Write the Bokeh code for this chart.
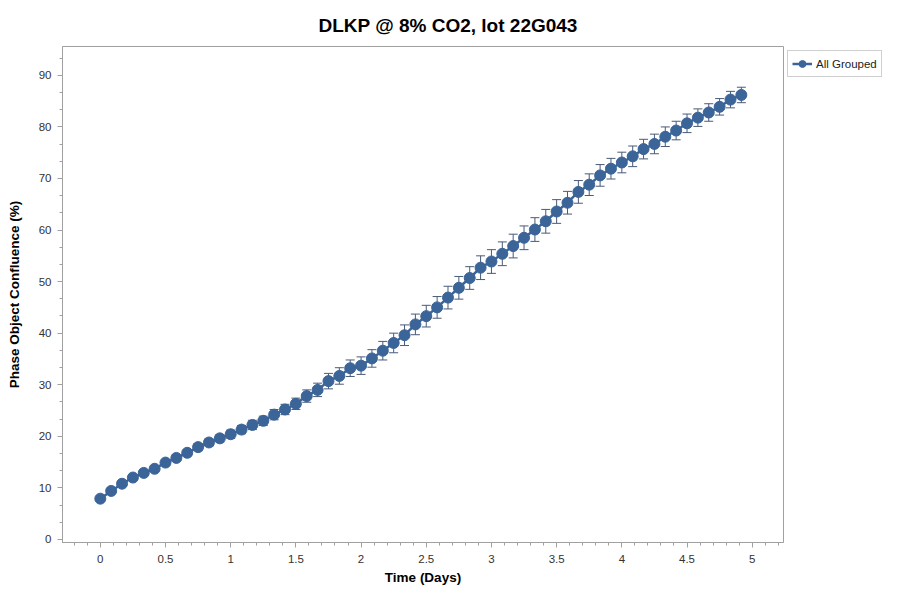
from bokeh.plotting import figure
from bokeh.models import (ColumnDataSource, Range1d, SingleIntervalTicker, Whisker, TeeHead,
                          Legend, LegendItem, CustomJSTickFormatter)
from bokeh.embed import file_html
from bokeh.resources import INLINE

# time in days (every 2 hours)
time_days = [k / 12 for k in range(60)]
confluence = [7.9, 9.4, 10.8, 12.0, 12.9, 13.7, 14.9, 15.8, 16.8, 17.9,
              18.8, 19.6, 20.4, 21.3, 22.2, 23.0, 24.2, 25.2, 26.3, 27.8,
              29.0, 30.7, 31.7, 33.2, 33.7, 35.1, 36.6, 38.1, 39.6, 41.7,
              43.3, 45.0, 46.9, 48.8, 50.7, 52.7, 53.9, 55.4, 56.9, 58.5,
              60.1, 61.7, 63.6, 65.3, 67.4, 68.8, 70.6, 71.9, 73.1, 74.3,
              75.7, 76.7, 78.1, 79.3, 80.7, 81.8, 82.8, 83.9, 85.3, 86.2]
error = [0.3, 0.3, 0.4, 0.4, 0.5, 0.5, 0.5, 0.6, 0.6, 0.7,
         0.7, 0.7, 0.8, 0.8, 0.9, 0.9, 1.0, 1.0, 1.1, 1.2,
         1.3, 1.5, 1.6, 1.6, 1.7, 1.7, 1.8, 1.9, 2.0, 2.0,
         2.1, 2.1, 2.2, 2.2, 2.2, 2.3, 2.3, 2.3, 2.3, 2.3,
         2.3, 2.3, 2.3, 2.2, 2.2, 2.1, 2.1, 2.0, 2.0, 2.0,
         1.9, 1.9, 1.9, 1.8, 1.8, 1.7, 1.7, 1.6, 1.6, 1.5]
series_name = "All Grouped"
title_text = "DLKP @ 8% CO2, lot 22G043"

src = ColumnDataSource(dict(
    x=time_days, y=confluence,
    lo=[c - e for c, e in zip(confluence, error)],
    hi=[c + e for c, e in zip(confluence, error)],
))

FONT = "Liberation Sans"
BLUE = "#3b6498"
GRAY = "#a0a0a0"
ERR = "#4a5a78"

p = figure(frame_width=721, frame_height=496, output_backend="svg", toolbar_location=None,
           x_range=Range1d(-0.29, 5.24), y_range=Range1d(-0.6, 95.6),
           min_border_left=62, min_border_right=0, min_border_top=46, min_border_bottom=42,
           title=title_text)
p.outline_line_color = GRAY
p.xgrid.visible = False
p.ygrid.visible = False

p.title.text_font = FONT
p.title.text_font_style = "bold"
p.title.text_font_size = "19px"
p.title.text_color = "#000000"
p.title.align = "left"
p.title.offset = 256
p.title.standoff = 22

wh = Whisker(source=src, base="x", upper="hi", lower="lo", line_color=ERR, line_width=1,
             upper_head=TeeHead(size=9, line_color=ERR, line_width=1),
             lower_head=TeeHead(size=9, line_color=ERR, line_width=1))
p.add_layout(wh)
ln = p.line("x", "y", source=src, line_color=BLUE, line_width=2.5)
sc = p.scatter("x", "y", source=src, size=11, fill_color=BLUE, line_color=BLUE)

p.xaxis.ticker = SingleIntervalTicker(interval=0.5, num_minor_ticks=5)
p.yaxis.ticker = SingleIntervalTicker(interval=10, num_minor_ticks=3)
p.xaxis.formatter = CustomJSTickFormatter(code="return String(Math.round(tick*10)/10);")
for ax in (p.xaxis[0], p.yaxis[0]):
    ax.axis_line_color = GRAY
    ax.major_tick_line_color = GRAY
    ax.minor_tick_line_color = GRAY
    ax.major_tick_out = 5
    ax.major_tick_in = 0
    ax.minor_tick_out = 3
    ax.minor_tick_in = 0
    ax.major_label_text_font = FONT
    ax.major_label_text_font_size = "11.5px"
    ax.major_label_text_color = "#333333"
    ax.axis_label_text_font = FONT
    ax.axis_label_text_font_style = "bold"
    ax.axis_label_text_font_size = "13.5px"
    ax.axis_label_text_color = "#000000"
p.xaxis.axis_label = "Time (Days)"
p.yaxis.axis_label = "Phase Object Confluence (%)"
p.xaxis.major_label_standoff = 7
p.xaxis.axis_label_standoff = 4
p.yaxis.major_label_standoff = 6
p.yaxis.axis_label_standoff = 14

legend = Legend(items=[LegendItem(label=series_name, renderers=[ln, sc])],
                location="top_left", margin=4, padding=4, spacing=0,
                border_line_color=GRAY, label_text_font=FONT, label_text_font_size="11.5px",
                label_text_color="#222222", glyph_width=20, glyph_height=17, label_standoff=4,
                label_height=17)
p.add_layout(legend, "right")

open("out.html", "w").write(file_html(p, INLINE))
